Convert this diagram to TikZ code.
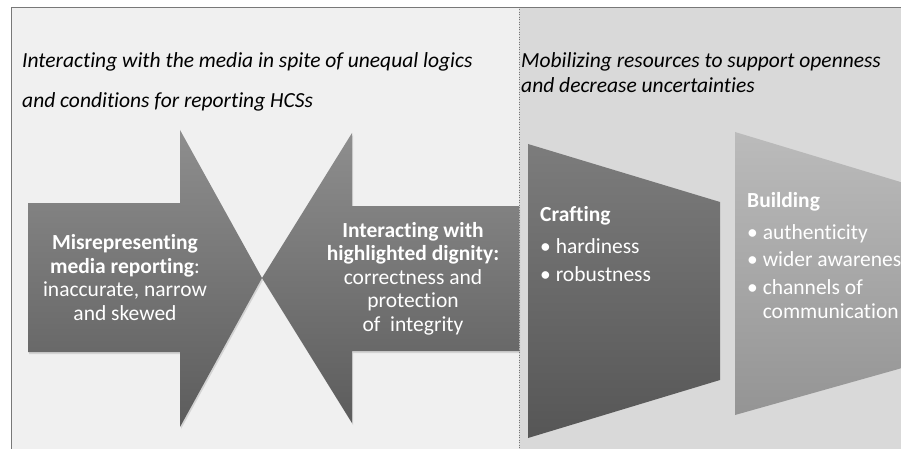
\documentclass[tikz,border=0pt]{standalone}
\usepackage{fontspec}
\setmainfont{Carlito}[RawFeature={-liga}]
\usetikzlibrary{shadows}
\definecolor{leftpanel}{RGB}{240,240,240}
\definecolor{rightpanel}{RGB}{217,217,217}
\definecolor{framegray}{RGB}{120,120,120}
\definecolor{arrowtop}{RGB}{142,142,142}
\definecolor{arrowbottom}{RGB}{92,92,92}
\definecolor{crafttop}{RGB}{124,124,124}
\definecolor{craftbottom}{RGB}{86,86,86}
\definecolor{buildtop}{RGB}{187,187,187}
\definecolor{buildbottom}{RGB}{148,148,148}

\begin{document}
\begin{tikzpicture}[
  x=1pt,y=-1pt,
  heading/.style={anchor=base west,inner sep=0pt,align=left,
    font={\itshape\fontsize{21.5}{25}\selectfont}},
  arrowshape/.style={top color=arrowtop,bottom color=arrowbottom,
    drop shadow={opacity=.25,shadow xshift=1pt,shadow yshift=-2pt}},
  arrowtext/.style={anchor=base,inner sep=0pt,align=center,text=white,
    font={\fontsize{21.5}{23.5}\selectfont}},
  stagetext/.style={anchor=base west,inner sep=0pt,align=left,text=white,
    font={\fontsize{21.5}{27.5}\selectfont}},
  ]
  \useasboundingbox (0,0) rectangle (901,449);
  \clip (0,0) rectangle (901,449);
  % Panels
  \fill[leftpanel] (11,7) rectangle (519,449);
  \fill[rightpanel] (519,7) rectangle (901,449);
  \draw[framegray,line width=.8pt] (11,449) -- (11,7) -- (901,7);
  \draw[framegray,dotted,line width=.5pt] (519,7) -- (519,449);
  % Headings (base = last line)
  \node[heading] (mediahead) at (22,108)
    {Interacting with the media in spite of unequal logics\\[15pt]
     and conditions for reporting HCSs};
  \node[heading] (resourcehead) at (521,93)
    {Mobilizing resources to support openness\\
     and decrease uncertainties};
  % Arrows
  \path[arrowshape] (28,203) -- (180,203) -- (180,130) -- (262,278)
    -- (180,427) -- (180,352) -- (28,352) -- cycle;
  \path[arrowshape] (519,206) -- (352,206) -- (352,133) -- (262,278)
    -- (352,423) -- (352,351) -- (519,351) -- cycle;
  \node[arrowtext] (misrep) at (125,320)
    {\textbf{Misrepresenting}\\\textbf{media reporting}:\\
     inaccurate, narrow\\and skewed};
  \node[arrowtext] (dignity) at (413,331)
    {\textbf{Interacting with}\\\textbf{highlighted dignity:}\\
     correctness and\\protection\\of\ \ integrity};
  % Stages
  \path[top color=crafttop,bottom color=craftbottom]
    (528,144) -- (720,202) -- (720,380) -- (528,438) -- cycle;
  \path[top color=buildtop,bottom color=buildbottom]
    (735,132) -- (927,190) -- (927,361) -- (735,415) -- cycle;
  \node[stagetext] (crafting) at (540,281)
    {\textbf{Crafting}\\[4.5pt]
     • hardiness\\
     • robustness};
  \node[stagetext] (building) at (747,318)
    {\textbf{Building}\\[4.5pt]
     • authenticity\\
     • wider awareness\\
     • channels of\\[-3.5pt]
     \phantom{• }communication};
\end{tikzpicture}
\end{document}
